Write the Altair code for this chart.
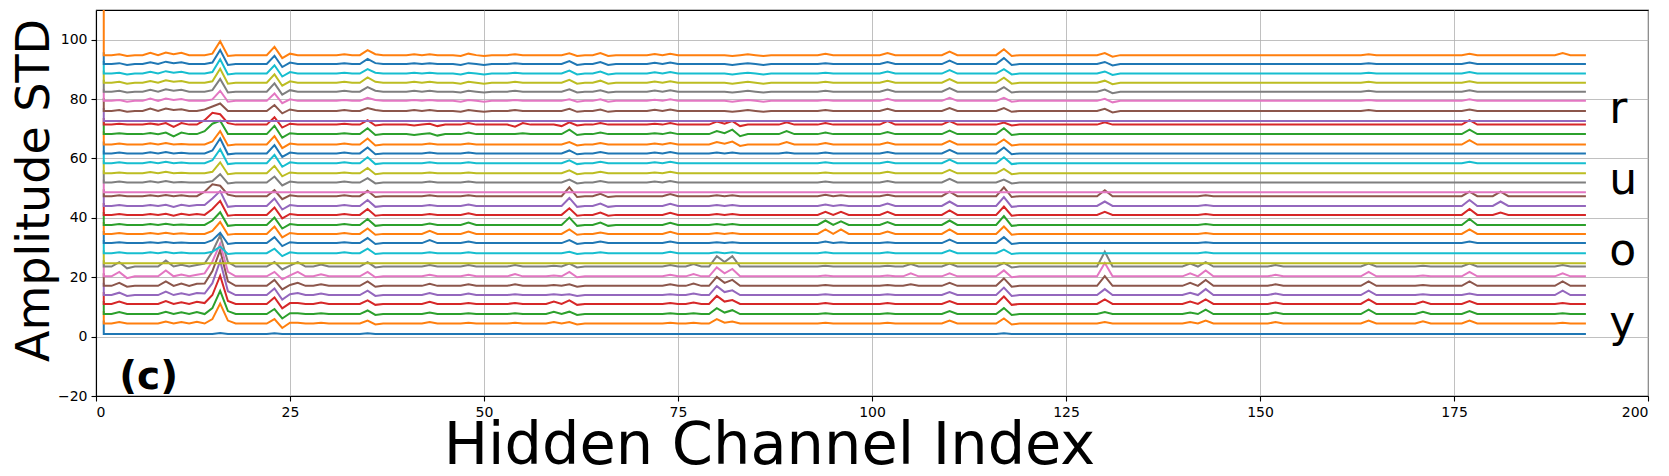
import altair as alt
import pandas as pd

# ---------------- data ----------------
channels = list(range(1, 193))

# baseline level of each of the 32 stacked curves (bottom -> top)
levels = [0.9, 4.4, 7.6, 11.0, 14.0, 17.1, 20.3, 23.6,
          24.7, 28.1, 31.5, 34.6, 37.6, 41.0, 44.0, 47.3,
          48.6, 51.9, 55.0, 58.4, 61.7, 64.7, 68.2, 71.4,
          72.6, 76.0, 79.4, 82.5, 85.5, 88.6, 91.8, 94.8]

# value of the first sample (the tall vertical strokes at the left edge)
start_values = [5.4, 8.6, 12.0, 15.0, 18.1, 21.3, 24.6, 25.7,
                29.1, 32.5, 35.6, 38.6, 42.0, 45.0, 48.3, 49.6,
                52.9, 56.0, 59.4, 62.7, 65.7, 69.2, 72.4, 73.6,
                77.0, 80.4, 83.5, 86.5, 89.6, 92.8, 95.8, 125.0]

# deviation from the baseline at channels where bumps are visible
# (one value per curve, bottom -> top)
bumps = {
    3:   [0, .5, .7, .8, .8, 1, 1.5, 1.5,  0, .3, .3, .3, .3, .3, .3, .3,  0, .3, .3, .3, .3, .3, .3, .3,  0, .3, .3, .3, .3, .3, .3, .3],
    4:   [0, 0, 0, 0, -.3, -.3, -.6, -.6,  0, 0, 0, 0, 0, 0, 0, 0,  0, 0, 0, 0, 0, 0, 0, 0,  0, -.3, -.3, -.3, -.3, -.3, -.3, -.3],
    7:   [0, 0, 0, 0, 0, 0, 0, 0,  0, .3, .3, .3, .3, .3, .3, .3,  0, .4, .4, .4, .4, .4, .4, .4,  0, .8, .8, .6, .6, .6, .6, .8],
    9:   [0, .7, .8, 1, 1.2, 1.5, 2, 2,  0, .4, .4, .4, .4, .4, .4, .4,  0, .5, .5, .5, .5, .5, .5, .5,  0, .8, .8, .8, .8, .8, .8, .9],
    10:  [0, 0, 0, 0, 0, 0, 0, 0,  0, 0, 0, 0, 0, -.3, -.3, 0,  0, 0, 0, 0, 0, 0, -.8, -.8,  0, .3, .3, .3, .3, .3, .3, .3],
    11:  [0, .5, .6, .6, .6, .8, .6, .6,  0, .2, .2, .2, .2, .4, .4, .3,  0, .2, .2, .2, .2, .2, .5, .5,  0, .6, .6, .6, .6, .6, .6, .8],
    13:  [0, .6, .7, .7, .7, .7, .5, .5,  0, 0, 0, 0, 0, .3, .3, 0,  0, 0, 0, 0, 0, 0, 0, 0,  0, 0, 0, 0, 0, 0, 0, 0],
    14:  [0, 0, 0, .3, .5, .8, 1, 1,  0, 0, 0, 0, 0, 0, .3, 1.5,  0, 0, 0, 0, 0, 0, 1, 1.5,  0, .5, 0, 0, 0, 0, 0, 0],
    15:  [0, 1.5, 2, 3, 4, 5, 5, 5,  0, .5, 1, 1, 1.5, 2, 2.5, 4,  0, .5, .5, 1, 1, 1, 3.5, 4,  0, 1.5, .5, .5, .5, .5, .5, .5],
    16:  [.3, 6.7, 7.8, 9.5, 11.5, 12, 11, 10.5,  0, 2.2, 3.5, 4, 4.3, 4.7, 5, 3.5,  0, 2.8, 3.7, 4.7, 5, 4.5, 4.5, 3.5,  0, 2.5, 3.4, 4.3, 4.7, 4.8, 4.7, 4.7],
    17:  [0, 1, 1, 1, 1.3, 1.5, 1.5, 1.5,  0, -.3, -.3, -.3, -.3, -.3, -.3, .5,  0, -.3, -.3, -.3, -.3, -.3, 0, .5,  0, 0, -.3, -.3, -.3, -.3, -.3, -.3],
    23:  [.2, 1.5, 1.7, 2.2, 2.2, 2, 1.5, 1.5,  0, 1.5, 2, 2.5, 2.5, 2.5, 2.5, 2,  0, 2, 2.5, 2.8, 2.8, 2.8, 2.8, 2.5,  0, 2, 2.5, 2.8, 2.8, 2.8, 2.8, 2.8],
    24:  [0, -1.5, -1.5, -1.5, -1.5, -1.2, -1, -1,  0, -1, -1, -1.2, -1.2, -1.2, -1.2, -1,  0, -1, -1, -1.2, -1.2, -1.2, -1.2, -1,  0, -.8, -.8, -1, -1, -1, -1, -1],
    25:  [0, .3, .3, .3, .3, .3, .3, .3,  0, .3, .3, .3, .3, .3, .3, .3,  0, .3, .3, .3, .3, .3, .3, .3,  0, .5, .5, .5, .5, .5, .5, .5],
    26:  [0, .3, .3, .3, .7, 1, 1.5, 1.5,  0, 0, 0, 0, 0, 0, 0, 0,  0, 0, 0, 0, 0, 0, 0, 0,  0, 0, 0, 0, 0, 0, 0, 0],
    29:  [0, .3, .3, .5, .5, .5, .7, .7,  0, 0, 0, 0, 0, 0, 0, 0,  0, 0, 0, 0, 0, 0, 0, 0,  0, 0, 0, 0, 0, 0, 0, 0],
    32:  [0, 0, 0, 0, 0, 0, 0, 0,  0, .3, .3, .3, .3, .3, .3, .3,  0, .3, .3, .3, .3, .3, .3, .3,  0, .3, .3, .3, .3, .3, .3, .3],
    35:  [.2, 1, 1.2, 1.2, 1.5, 1.5, 1.5, 1.5,  0, 1.5, 1.7, 1.8, 2, 2, 2, 1.8,  0, 1.5, 1.8, 2, 2, 2, 2, 1.5,  0, 1, 1, 1.5, 1.8, 1.5, 1.7, 1.7],
    36:  [0, -.3, -.3, -.3, -.3, -.3, -.3, -.3,  0, -.3, -.3, -.3, -.3, -.3, -.3, -.3,  0, -.3, -.3, -.3, -.3, -.3, -.3, -.3,  0, .3, .3, .3, .3, .3, .3, .3],
    41:  [0, 0, 0, 0, 0, 0, 0, 0,  0, 0, 0, 0, 0, 0, 0, 0,  0, 0, 0, 0, 0, 0, -.3, -.3,  0, .3, .3, .3, .3, .3, .3, .3],
    43:  [0, .5, .5, .7, .7, .7, .5, .5,  0, .3, 1, 1, .5, .3, .3, .3,  0, .3, .3, .3, .3, .3, .3, .3,  0, .3, .3, .3, .3, .3, .3, .3],
    44:  [0, 0, 0, 0, 0, 0, 0, 0,  0, 0, 0, 0, 0, 0, 0, 0,  0, 0, 0, 0, 0, 0, -.5, -.5,  0, 0, 0, 0, 0, 0, 0, 0],
    47:  [0, 0, 0, 0, 0, 0, 0, 0,  0, 0, 0, 0, 0, 0, 0, 0,  0, 0, 0, 0, 0, 0, 0, 0,  0, -.3, -.3, -.3, -.3, -.3, -.3, -.3],
    48:  [0, .3, .3, .3, .5, .5, .5, .5,  0, .3, .5, .8, .8, .5, .5, .3,  0, .3, .3, .3, .3, .3, .5, .5,  0, .3, .3, .3, .3, .3, .3, .5],
    50:  [0, 0, 0, 0, 0, 0, 0, 0,  0, 0, 0, 0, 0, 0, 0, 0,  0, 0, 0, 0, 0, 0, 0, 0,  0, -.3, -.3, -.3, -.3, -.3, -.3, -.3],
    54:  [0, .3, .3, .3, .3, .5, .8, .5,  0, 0, 0, 0, 0, 0, 0, 0,  0, 0, 0, 0, 0, 0, 0, -.7,  0, .3, .3, .3, .3, .3, .3, .3],
    55:  [0, 0, 0, 0, 0, 0, 0, 0,  0, 0, 0, 0, 0, 0, 0, 0,  0, 0, 0, 0, 0, 0, .3, .5,  0, 0, 0, 0, 0, 0, 0, 0],
    59:  [0, .5, .8, .8, .3, .3, .3, .3,  0, 0, 0, 0, 0, 0, 0, 0,  0, 0, 0, 0, 0, 0, 0, 0,  0, 0, 0, 0, 0, 0, 0, 0],
    60:  [0, 0, 0, 0, 0, 0, 0, 0,  0, 0, 0, 0, 0, 0, 0, 0,  0, 0, 0, 0, 0, 0, 0, -.5,  0, 0, 0, 0, 0, 0, 0, 0],
    61:  [0, .5, .8, 1.2, .3, .5, 1.5, 1,  0, .5, 1, 1.5, 2.5, 2.2, 2.7, 3,  0, 1, 1, 1, 1, .8, 1.5, .8,  0, .7, .5, .8, 1, 1, 1, .6],
    62:  [0, -.3, -.3, -.3, -.3, -.3, -.3, -.3,  0, -.3, -.3, -.3, -.3, -.3, -.3, -.3,  0, -.3, -.3, -.3, -.3, -.3, -.3, -.3,  0, -.3, -.3, -.3, -.3, -.3, -.3, -.3],
    65:  [0, 0, 0, 0, 0, 0, 0, 0,  0, .3, .5, .5, .8, .8, .8, .8,  0, .5, .5, .5, .5, .5, .5, .5,  0, .5, .5, .5, .7, .7, .7, .7],
    66:  [0, 0, 0, 0, 0, 0, 0, 0,  0, 0, 0, 0, -.3, -.3, -.3, -.3,  0, 0, 0, 0, 0, 0, 0, 0,  0, -.3, -.3, -.3, -.3, -.3, -.3, -.3],
    72:  [0, 0, 0, 0, 0, 0, 0, 0,  0, 0, 0, 0, 0, 0, 0, 0,  0, .3, .3, .3, .3, .3, .3, .3,  0, .4, .4, .4, .4, .4, .4, .4],
    74:  [0, .3, .3, .3, .3, .5, .5, .5,  0, .5, .5, .7, .7, .7, .7, .7,  0, .5, .5, .5, .5, .5, .5, .5,  0, .5, .5, .5, .5, .5, .5, .5],
    77:  [0, .3, .3, .5, .5, .8, .8, .8,  0, 0, 0, 0, 0, 0, 0, 0,  0, 0, 0, 0, 0, 0, 0, 0,  0, 0, 0, 0, 0, 0, 0, 0],
    80:  [0, 1.5, 2, 2.7, 3, 3, 3, 3.5,  0, .3, .3, .3, .3, .3, .3, .3,  0, 0, 0, 0, .3, .8, 1, 1,  0, 0, 0, 0, 0, 0, 0, 0],
    81:  [0, .3, .5, .8, 1, 1, 1, 1.5,  0, 0, 0, 0, 0, 0, 0, 0,  0, 0, 0, 0, 0, .3, .3, .3,  0, 0, 0, 0, 0, 0, 0, 0],
    82:  [0, .7, 1.3, 1.3, 1.6, 2, 2.5, 3.5,  0, .3, .3, .3, .3, .3, .3, .3,  0, 0, 0, 0, .3, 1, 1.5, 1.2,  0, -.3, -.3, -.3, -.3, -.3, -.3, -.3],
    83:  [0, 0, 0, 0, 0, 0, 0, 0,  0, 0, 0, 0, 0, 0, 0, 0,  0, 0, 0, 0, 0, -.5, -.7, -.5,  0, 0, 0, 0, 0, 0, 0, 0],
    84:  [0, 0, 0, 0, 0, 0, 0, 0,  0, 0, 0, 0, 0, 0, 0, 0,  0, 0, 0, 0, 0, 0, 0, 0,  0, .3, .3, .3, .3, .3, .3, .3],
    86:  [0, 0, 0, 0, 0, 0, 0, 0,  0, 0, 0, 0, 0, 0, 0, 0,  0, 0, 0, 0, 0, 0, 0, 0,  0, -.3, -.3, -.3, -.3, -.3, -.3, -.3],
    89:  [0, 0, 0, 0, 0, 0, 0, 0,  0, 0, 0, 0, 0, 0, 0, 0,  0, 0, 0, 0, .3, .8, 1, .8,  0, 0, 0, 0, 0, 0, 0, 0],
    94:  [0, .3, .3, .3, .3, .3, .3, .3,  0, .3, .5, 1.5, 1.5, 1, .5, .5,  0, .3, .3, .3, .3, .5, .5, .5,  0, .3, .3, .3, .3, .3, .3, .5],
    96:  [0, 0, 0, 0, 0, 0, 0, 0,  0, 0, .3, 1.5, 1.2, 1, .3, .3,  0, 0, 0, 0, 0, 0, 0, 0,  0, 0, 0, 0, 0, 0, 0, 0],
    102: [0, .3, .3, .3, .3, .3, .3, .3,  0, .3, .3, .8, 1, 1, .8, .5,  0, .5, .5, .5, .5, .7, .7, 1.2,  0, .7, .7, .7, .7, .7, .7, .7],
    105: [0, 0, 0, 0, 0, .5, 1, .8,  0, 0, 0, 0, 0, 0, 0, 0,  0, 0, 0, 0, 0, 0, 0, 0,  0, 0, 0, 0, 0, 0, 0, 0],
    110: [0, 1, 1, 1, 1, 1, 1, 1,  0, 1, 1.2, 1.5, 1.5, 1.5, 1.5, 1.5,  0, 1.2, 1.2, 1.2, 1.2, 1.2, 1.2, 1.2,  0, 1, 1, 1.2, 1.2, 1.2, 1.2, 1.2],
    117: [.2, 1.7, 2, 2.5, 2.5, 2.5, 2, 1.2,  0, 1.2, 2, 2.5, 3, 2.8, 3, 3,  0, 1, 1.5, 2, 2, 1.7, 2, .7,  0, 1, 1, 1.5, 1.7, 1.5, 2, 2],
    118: [0, -.3, -.3, -.3, -.3, -.3, -.3, -.3,  0, -.3, -.3, -.3, -.3, -.3, -.3, -.3,  0, -.3, -.3, -.3, -.3, -.3, -.3, -.3,  0, -.3, -.3, -.3, -.3, -.3, -.3, -.3],
    130: [0, .5, .7, 1.5, 2, 3.3, 4.5, 5,  0, 0, 0, 0, 0, 1, 1.5, 2,  0, 0, 0, 0, 0, 0, 0, .8,  0, .7, .7, .7, .7, .7, .7, .7],
    131: [0, 0, 0, 0, 0, 0, 0, 0,  0, 0, 0, 0, 0, 0, 0, 0,  0, 0, 0, 0, 0, 0, 0, 0,  0, -.5, -.5, -.5, -.5, -.5, -.5, -.5],
    141: [0, .5, .5, .8, .8, 1, 1, 1,  0, 0, 0, 0, 0, 0, 0, 0,  0, 0, 0, 0, 0, 0, 0, 0,  0, 0, 0, 0, 0, 0, 0, 0],
    143: [0, 1, 1.5, 1.5, 2, 2, 2, 1.5,  0, .3, .3, .3, .3, .3, .3, .3,  0, 0, 0, 0, 0, 0, 0, 0,  0, 0, 0, 0, 0, 0, 0, 0],
    152: [0, .5, .5, .5, .5, .5, .5, .5,  0, 0, 0, 0, 0, 0, 0, 0,  0, 0, 0, 0, 0, 0, 0, 0,  0, 0, 0, 0, 0, 0, 0, 0],
    164: [0, 1, 1.5, 1.5, 1.5, 1.5, 1.5, 1,  0, 0, 0, 0, 0, 0, 0, 0,  0, 0, 0, 0, 0, 0, 0, 0,  0, .3, .3, .3, .3, .3, .3, .3],
    171: [0, .8, .8, .8, .3, .3, .3, .3,  0, 0, 0, 0, 0, 0, 0, 0,  0, 0, 0, 0, 0, 0, 0, 0,  0, 0, 0, 0, 0, 0, 0, 0],
    177: [0, 1, 1, 1, .5, 1.5, 1.5, 1,  0, 0, .5, 1.5, 2, 2, 2, 1.5,  0, 0, 0, .5, 0, 1.5, 1.5, 1.5,  0, .5, .5, .5, .5, .5, .5, .5],
    181: [0, 0, 0, 0, 0, 0, 0, 0,  0, 0, 0, 0, 0, .8, 1.5, 1.5,  0, 0, 0, 0, 0, 0, 0, 0,  0, 0, 0, 0, 0, 0, 0, 0],
    189: [0, .3, .3, .3, 1.5, 1.5, 1, .5,  0, 0, 0, 0, 0, 0, 0, 0,  0, 0, 0, 0, 0, 0, 0, 0,  0, 0, 0, 0, 0, 0, 0, .7],
}

colors = ["#1f77b4", "#ff7f0e", "#2ca02c", "#d62728", "#9467bd",
          "#8c564b", "#e377c2", "#7f7f7f", "#bcbd22", "#17becf"]

letters = ["y", "o", "u", "r"]
letter_y = [0, 24, 48, 72]
letter_x = [195, 195, 195, 195]

panel_label = ["(c)"]
panel_x = [3.0]
panel_y = [-13.5]

x_ticks = [0, 25, 50, 75, 100, 125, 150, 175, 200]
y_ticks = [-20, 0, 20, 40, 60, 80, 100]

# ---------------- build the long table ----------------
rows = []
names = []
for i, lvl in enumerate(levels):
    name = f"s{i:02d}"
    names.append(name)
    rows.append({"series": name, "ch": channels[0], "val": start_values[i], "ord": 0})
    for k, ch in enumerate(channels):
        v = lvl + (bumps[ch][i] if ch in bumps else 0.0)
        rows.append({"series": name, "ch": ch, "val": v, "ord": k + 1})
df = pd.DataFrame(rows)
palette = [colors[i % 10] for i in range(len(levels))]

W, H = 1552, 386

xscale = alt.Scale(domain=[0, 200], nice=False, zero=False)
yscale = alt.Scale(domain=[-20, 110], nice=False, zero=False)

lines = alt.Chart(df).mark_line(strokeWidth=2, clip=True).encode(
    x=alt.X("ch:Q", scale=xscale,
            axis=alt.Axis(values=x_ticks, title="Hidden Channel Index",
                          titleFontSize=59, titleX=673, titleY=67,
                          titleAlign="center", titleBaseline="alphabetic")),
    y=alt.Y("val:Q", scale=yscale,
            axis=alt.Axis(values=y_ticks, title="Amplitude STD",
                          titleFontSize=46, titleX=-62, titleY=180,
                          titleAngle=-90, titleAlign="center",
                          titleBaseline="middle")),
    color=alt.Color("series:N", scale=alt.Scale(domain=names, range=palette),
                    legend=None),
    order=alt.Order("ord:Q"),
)

letters_df = pd.DataFrame({"t": letters, "x": letter_x, "y": letter_y})
letter_marks = alt.Chart(letters_df).mark_text(
    align="left", baseline="alphabetic", fontSize=44, font="DejaVu Sans", color="black"
).encode(x=alt.X("x:Q", scale=xscale), y=alt.Y("y:Q", scale=yscale), text="t:N")

panel_df = pd.DataFrame({"t": panel_label, "x": panel_x, "y": panel_y})
panel_mark = alt.Chart(panel_df).mark_text(
    align="left", baseline="middle", fontSize=39, font="DejaVu Sans",
    fontWeight="bold", color="black"
).encode(x=alt.X("x:Q", scale=xscale), y=alt.Y("y:Q", scale=yscale), text="t:N")

chart = alt.layer(lines, letter_marks, panel_mark).properties(
    width=W, height=H,
    autosize=alt.AutoSizeParams(type="none"),
    padding={"left": 88, "top": 2, "right": 12, "bottom": 78},
    background="white",
).configure_view(
    stroke="black", strokeWidth=1.1
).configure_axis(
    grid=True, gridColor="#b0b0b0", gridWidth=0.8,
    domainColor="black", domainWidth=1.1,
    tickColor="black", tickSize=5, tickWidth=1.1,
    labelFont="DejaVu Sans", labelFontSize=14, labelColor="black",
    labelPadding=4,
    titleFont="DejaVu Sans", titleFontWeight="normal", titleColor="black",
)

chart.save("out.html", embed_options={"renderer": "svg", "actions": False})
